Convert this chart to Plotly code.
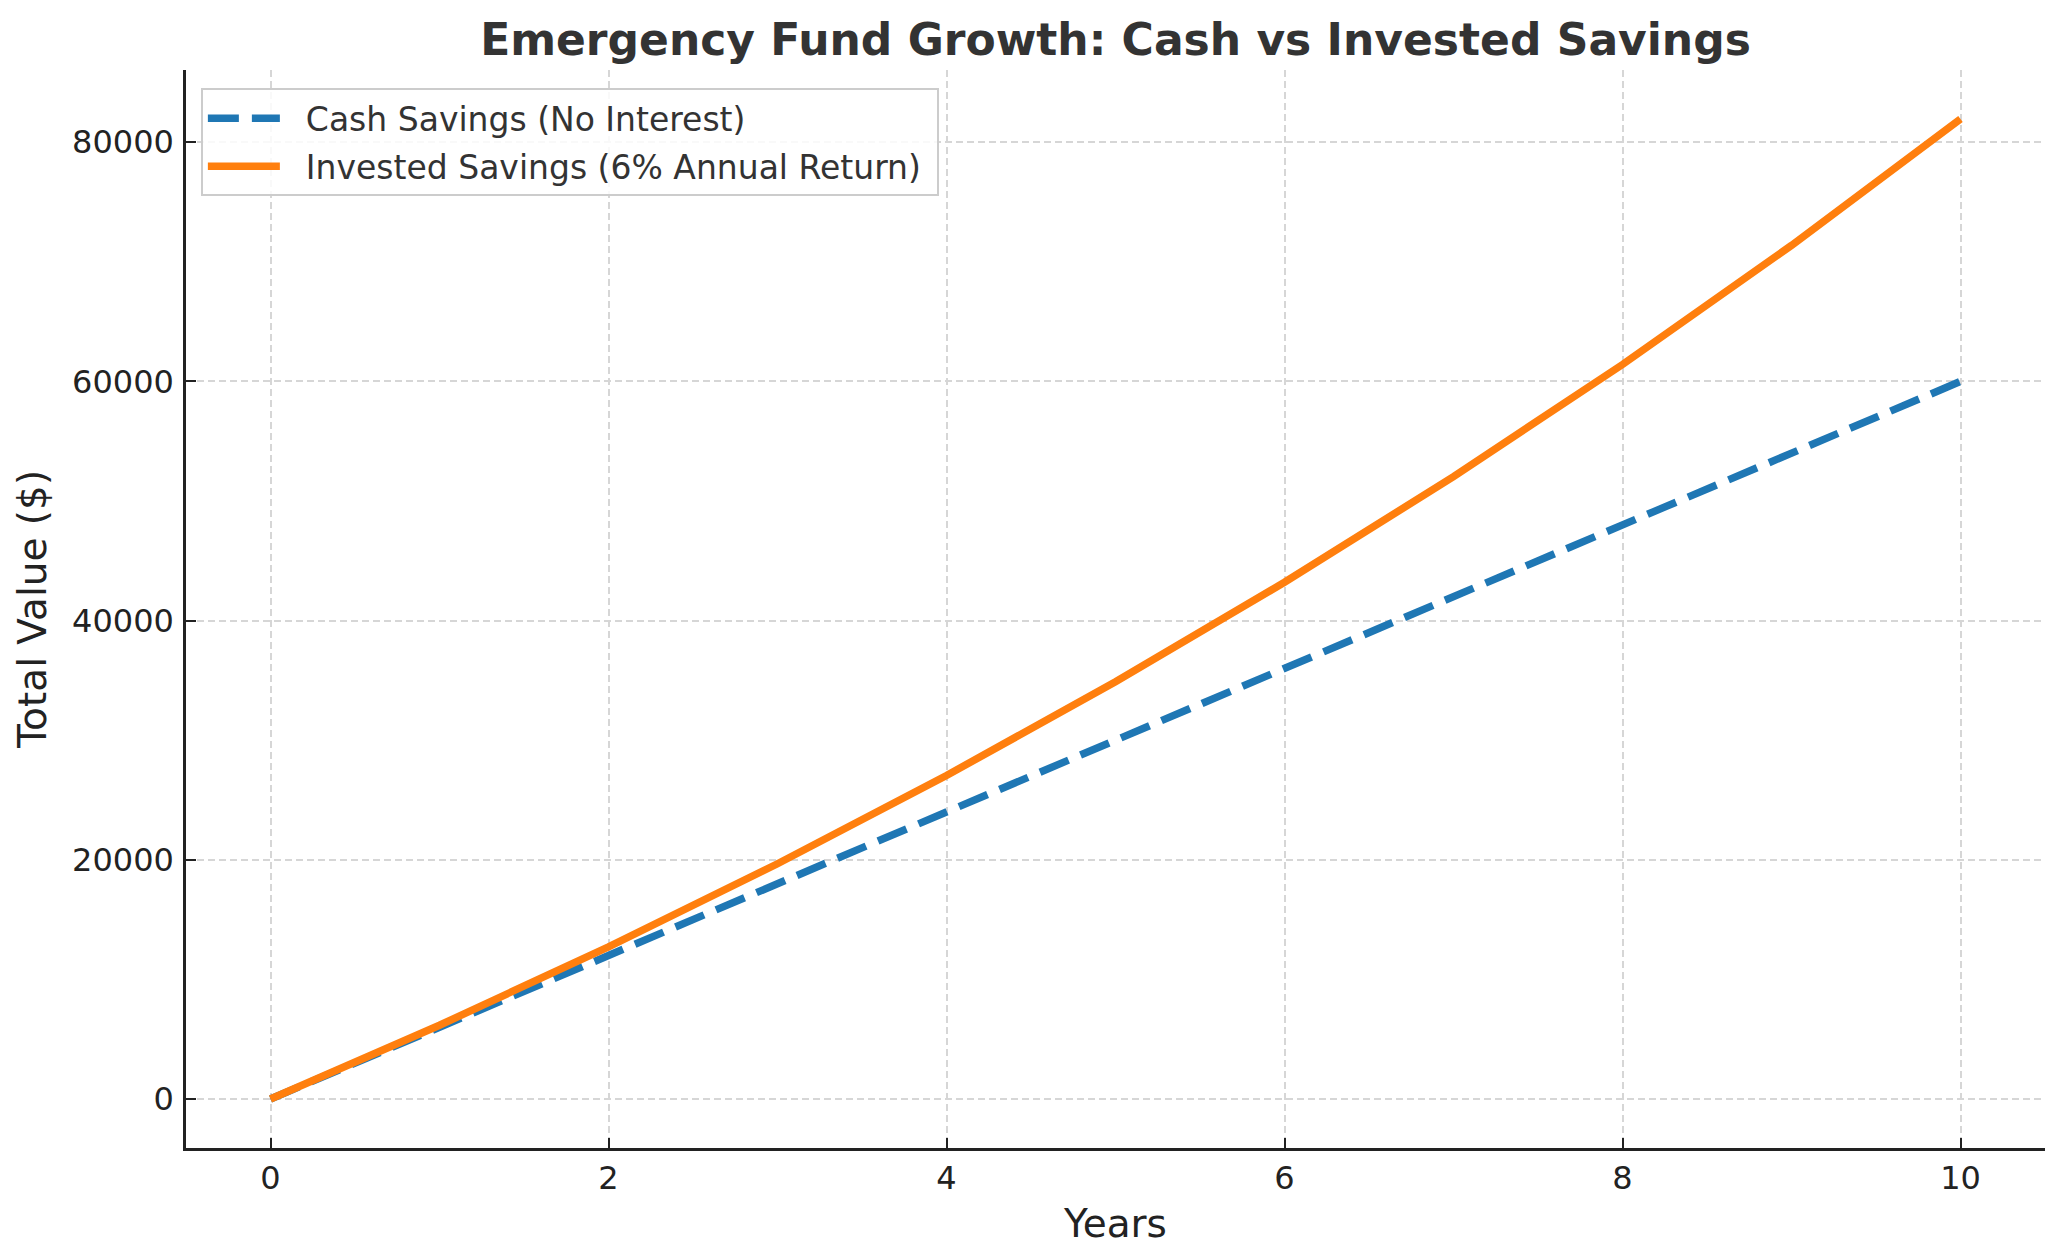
import plotly.graph_objects as go

years = [0, 1, 2, 3, 4, 5, 6, 7, 8, 9, 10]
cash_savings = [0, 6000, 12000, 18000, 24000, 30000, 36000, 42000, 48000, 54000, 60000]
invested_savings = [0, 6168, 12716, 19668, 27048, 34885, 43204, 52036, 61413, 71370, 81940]
x_ticks = [0, 2, 4, 6, 8, 10]
y_ticks = [0, 20000, 40000, 60000, 80000]
series_names = ["Cash Savings (No Interest)", "Invested Savings (6% Annual Return)"]

FONT = "DejaVu Sans"
W, H = 2057, 1252
PAD = "\u00a0\u00a0"

fig = go.Figure()
fig.add_trace(go.Scatter(
    x=years, y=cash_savings, mode="lines", name=PAD + series_names[0],
    legendgroup="cash",
    line=dict(color="#1f77b4", width=7.5, dash="31px,13px"),
))
fig.add_trace(go.Scatter(
    x=years, y=invested_savings, mode="lines", name=PAD + series_names[1] + "\u00a0",
    legendgroup="inv",
    line=dict(color="#ff7f0e", width=7.5),
))

axis_common = dict(
    showline=True, linecolor="#222222", linewidth=2.5,
    ticks="inside", ticklen=10, tickwidth=2.4, tickcolor="#222222",
    showgrid=True, gridcolor="#d6d6d6", gridwidth=2, griddash="7px,4px",
    zeroline=False, mirror=False,
    tickfont=dict(family=FONT, size=32, color="#222222"),
)

fig.update_layout(
    width=W, height=H,
    margin=dict(l=178, r=20, t=62, b=112),
    paper_bgcolor="white", plot_bgcolor="white",
    title=dict(
        text="<b>Emergency Fund Growth: Cash vs Invested Savings</b>",
        x=0.5, xref="paper", xanchor="center",
        y=1 - 32 / H, yref="container", yanchor="middle",
        font=dict(family=FONT, size=44, color="#333333"),
    ),
    xaxis=dict(
        range=[-0.5, 10.5], tickvals=x_ticks, tickformat="d", ticklabelstandoff=0,
        title=dict(text="Years", font=dict(family=FONT, size=39, color="#222222"), standoff=14),
        **axis_common,
    ),
    yaxis=dict(
        range=[-4097, 86037], tickvals=y_ticks, tickformat="d", ticklabelstandoff=3,
        title=dict(text="Total Value ($)", font=dict(family=FONT, size=39, color="#222222"), standoff=14),
        **axis_common,
    ),
    legend=dict(
        x=0.008, y=0.983, xanchor="left", yanchor="top",
        bgcolor="rgba(255,255,255,0.85)", bordercolor="#cccccc", borderwidth=2,
        font=dict(family=FONT, size=33, color="#333333"),
        itemwidth=72, traceorder="grouped", tracegroupgap=2,
    ),
    showlegend=True,
)

fig.write_html("out.html")
